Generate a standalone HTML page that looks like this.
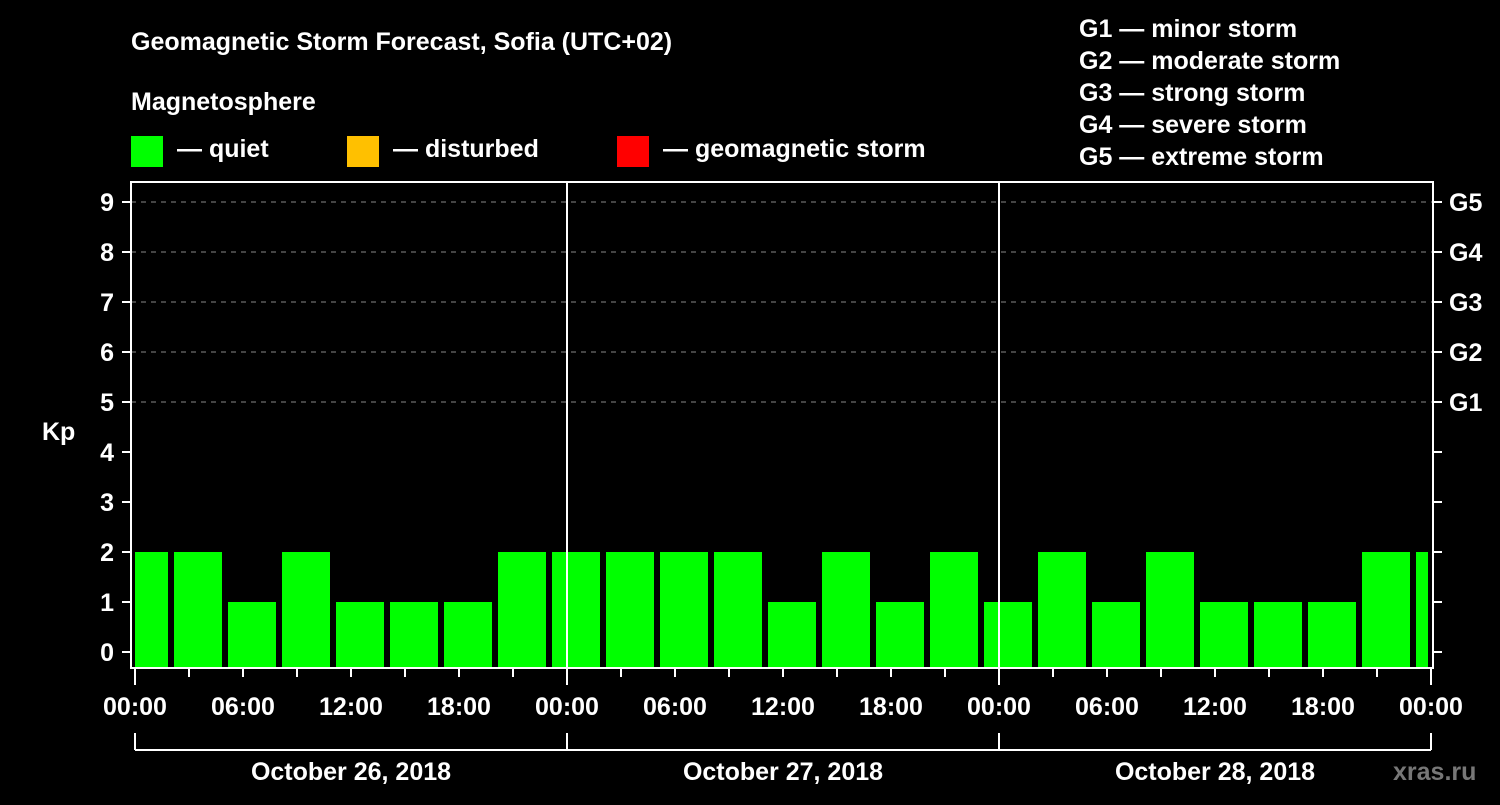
<!DOCTYPE html>
<html><head><meta charset="utf-8"><style>
body{margin:0;background:#000;width:1500px;height:800px;overflow:hidden;font-family:"Liberation Sans",Arial,sans-serif;}
svg text{font-family:"Liberation Sans",Arial,sans-serif;font-weight:bold;fill:#fff;}
</style></head><body>
<svg id="c" width="1500" height="800">
<text x="131" y="50" font-size="25">Geomagnetic Storm Forecast, Sofia (UTC+02)</text>
<text x="131" y="110" font-size="25">Magnetosphere</text>
<rect x="131" y="136" width="32" height="31" fill="#00ff00"/>
<text x="177" y="157" font-size="25">— quiet</text>
<rect x="347" y="136" width="32" height="31" fill="#ffc000"/>
<text x="393" y="157" font-size="25">— disturbed</text>
<rect x="617" y="136" width="32" height="31" fill="#ff0000"/>
<text x="663" y="157" font-size="25">— geomagnetic storm</text>
<g font-size="25">
<text x="1079" y="37">G1 — minor storm</text>
<text x="1079" y="69">G2 — moderate storm</text>
<text x="1079" y="101">G3 — strong storm</text>
<text x="1079" y="133">G4 — severe storm</text>
<text x="1079" y="165">G5 — extreme storm</text>
</g>
<text x="42" y="440" font-size="25">Kp</text>
<text x="1393" y="780" font-size="25" fill="#777" style="fill:#777">xras.ru</text>
<g id="plot"></g>
</svg>
<script>
const kpValues=[2,2,1,2,1,1,1,2,2,2,2,2,1,2,1,2,1,2,1,2,1,1,1,2,2];
const dayLabels=["October 26, 2018","October 27, 2018","October 28, 2018"];
const yTicks=[0,1,2,3,4,5,6,7,8,9];
const gLabels=["G1","G2","G3","G4","G5"];
const hourLabels=["00:00","06:00","12:00","18:00"];
const startHour=-1;
const NS="http://www.w3.org/2000/svg";
const g=document.getElementById('plot');
const X0=135,PX_H=18,L=131,R=1433,T=182,B=668;
const x=h=>X0+h*PX_H;
const y=v=>652-v*50;
function mk(tag,attrs){const e=document.createElementNS(NS,tag);for(const k in attrs)e.setAttribute(k,attrs[k]);g.appendChild(e);return e;}
// grid
yTicks.filter(v=>v>=5).forEach(v=>{
 const e=mk('line',{x1:L,x2:R,y1:y(v),y2:y(v),stroke:'#888','stroke-width':1,'stroke-dasharray':'5,5'});
 
 
});
// bars
kpValues.forEach((v,i)=>{
 let a=x(startHour+i*3)+3,b=x(startHour+i*3+3)-3;
 a=Math.max(a,X0);b=Math.min(b,R-5);
 const col=v>=5?'#ff0000':(v>=4?'#ffc000':'#00ff00');
 const e=mk('rect',{x:a,y:y(v),width:b-a,height:B-y(v),fill:col});
 
 
});
// frame
const fr=mk('rect',{x:L,y:T,width:R-L,height:B-T,fill:'none',stroke:'#fff','stroke-width':2});


// day separators
for(let d=1;d<3;d++){
 const e=mk('line',{x1:x(24*d),x2:x(24*d),y1:T,y2:B,stroke:'#fff','stroke-width':2});
 
 
}
// y ticks
yTicks.forEach(v=>{
 mk('line',{x1:122,x2:L,y1:y(v),y2:y(v),stroke:'#fff','stroke-width':2});
 mk('line',{x1:R,x2:1442,y1:y(v),y2:y(v),stroke:'#fff','stroke-width':2});
 const t=mk('text',{x:114,y:y(v)+9,'font-size':25,'text-anchor':'end'});
 t.textContent=v;
 
 
});
gLabels.forEach((s,i)=>{
 const t=mk('text',{x:1449,y:y(5+i)+9,'font-size':25});
 t.textContent=s;
 
 
});
// x ticks
for(let h=0;h<=72;h+=3){
 const major=h%6===0;
 const len=h%24===0?17:9;
 mk('line',{x1:x(h),x2:x(h),y1:B,y2:B+len,stroke:'#fff','stroke-width':2});
 if(major){
  const t=mk('text',{x:x(h),y:715,'font-size':25,'text-anchor':'middle'});
  t.textContent=hourLabels[(h/6)%4];
  
  
 }
}
// day brackets
mk('line',{x1:x(0),x2:x(72),y1:750,y2:750,stroke:'#fff','stroke-width':2});
for(let d=0;d<=3;d++) mk('line',{x1:x(24*d),x2:x(24*d),y1:733,y2:750,stroke:'#fff','stroke-width':2});
dayLabels.forEach((s,i)=>{
 const t=mk('text',{x:x(24*i+12),y:780,'font-size':25,'text-anchor':'middle'});
 t.textContent=s;
 
 
});
</script>
</body></html>
